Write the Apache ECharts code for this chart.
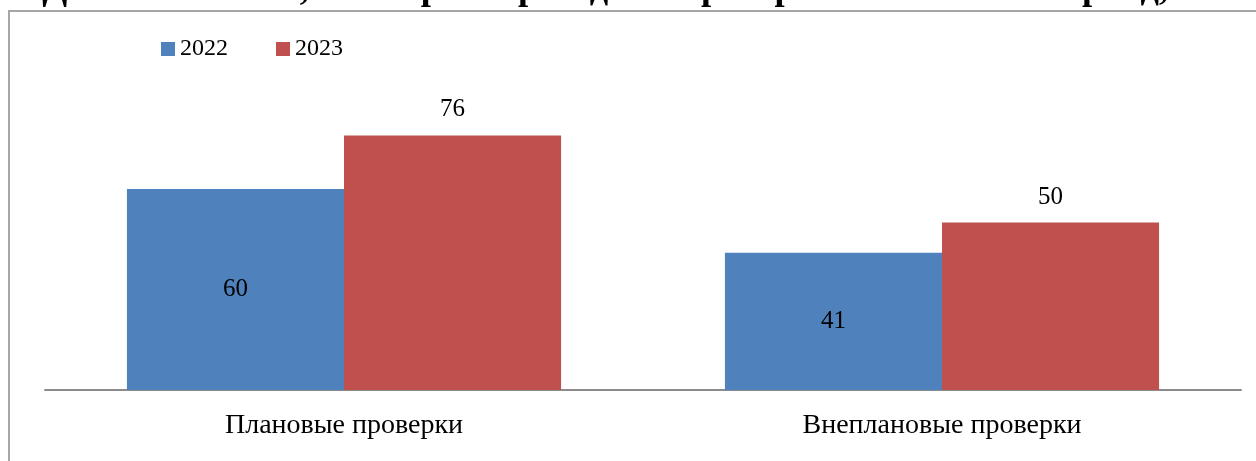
<!DOCTYPE html>
<html>
<head>
<meta charset="utf-8">
<script src="https://cdn.jsdelivr.net/npm/echarts@6/dist/echarts.min.js"></script>
<style>html,body{margin:0;padding:0;background:#fff;}#c{width:1256px;height:461px;}</style>
</head>
<body>
<div id="c"></div>
<script>
const titleText = 'Доля компаний, в которых проходили проверки в отчетный период, %';
const categories = ['Плановые проверки', 'Внеплановые проверки'];
const seriesNames = ['2022', '2023'];
const values2022 = [60, 41];
const values2023 = [76, 50];

const FONT = '"Liberation Serif", "DejaVu Serif", serif';
const chart = echarts.init(document.getElementById('c'), null, {renderer: 'canvas'});
chart.setOption({
  animation: false,
  backgroundColor: '#fff',
  title: {
    text: titleText,
    left: 'center',
    top: -29,
    padding: 0,
    z: 20,
    textStyle: {fontFamily: FONT, fontSize: 36.5, fontWeight: 'bold', color: '#000'}
  },
  graphic: [{
    type: 'rect',
    z: 0,
    shape: {x: 9, y: 11, width: 1400, height: 600},
    style: {fill: null, stroke: '#a6a6a6', lineWidth: 2}
  }],
  legend: {
    left: 156,
    top: 32,
    itemWidth: 14,
    itemHeight: 14,
    itemGap: 48,
    icon: 'rect',
    textStyle: {fontFamily: FONT, fontSize: 24, color: '#000'},
    data: seriesNames
  },
  grid: {left: 45, right: 15, top: 55, bottom: 71, containLabel: false},
  xAxis: {
    type: 'category',
    data: categories,
    axisLine: {lineStyle: {color: '#8c8c8c', width: 2}},
    axisTick: {show: false},
    axisLabel: {fontFamily: FONT, fontSize: 28, color: '#000', margin: 22}
  },
  yAxis: {
    type: 'value',
    min: 0,
    max: 100,
    show: false,
    splitLine: {show: false}
  },
  series: [
    {
      name: seriesNames[0],
      type: 'bar',
      data: values2022,
      barGap: '0%',
      barCategoryGap: '27.4%',
      itemStyle: {color: '#4F81BD'},
      label: {show: true, position: 'inside', fontFamily: FONT, fontSize: 25, color: '#000'}
    },
    {
      name: seriesNames[1],
      type: 'bar',
      data: values2023,
      barGap: '0%',
      barCategoryGap: '27.4%',
      itemStyle: {color: '#C0504D'},
      label: {show: true, position: 'top', distance: 13, fontFamily: FONT, fontSize: 25, color: '#000'}
    }
  ]
});
</script>
</body>
</html>
